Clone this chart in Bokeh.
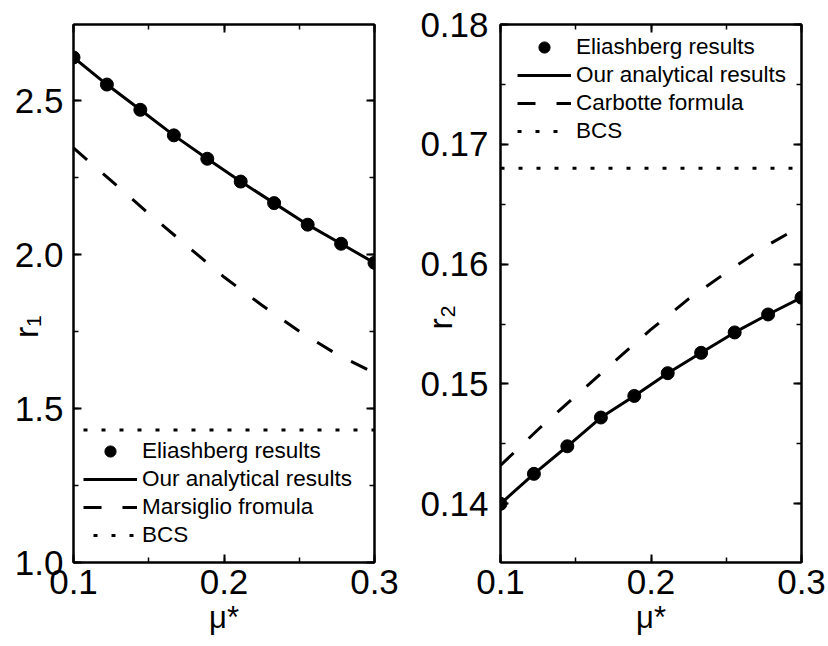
from bokeh.plotting import figure
from bokeh.models import (Range1d, LinearAxis, SingleIntervalTicker,
                          Legend, LegendItem, CustomJSTickFormatter, NumeralTickFormatter)
from bokeh.layouts import row
from bokeh.embed import file_html
from bokeh.resources import INLINE

# ---------------- data ----------------
mu_points = [0.1, 0.1222, 0.1444, 0.1667, 0.1889, 0.2111, 0.2333, 0.2556, 0.2778, 0.3]
mu_curve = [0.1, 0.125, 0.15, 0.175, 0.2, 0.225, 0.25, 0.275, 0.3]
mu_span = [0.1, 0.3]

r1_eliashberg = [2.640, 2.552, 2.470, 2.387, 2.311, 2.237, 2.167, 2.097, 2.035, 1.973]
r1_analytical = [2.640, 2.552, 2.470, 2.387, 2.311, 2.237, 2.167, 2.097, 2.035, 1.973]
r1_marsiglio = [2.346, 2.240, 2.133, 2.030, 1.927, 1.836, 1.751, 1.676, 1.615]
r1_bcs = [1.43, 1.43]

r2_eliashberg = [0.1400, 0.1425, 0.1448, 0.1472, 0.1490, 0.1509, 0.1526, 0.1543, 0.1558, 0.1572]
r2_analytical = [0.1400, 0.1425, 0.1448, 0.1472, 0.1490, 0.1509, 0.1526, 0.1543, 0.1558, 0.1572]
r2_carbotte = [0.1432, 0.1462, 0.1490, 0.1518, 0.15455, 0.1571, 0.1593, 0.1614, 0.1632]
r2_bcs = [0.168, 0.168]

legend_left = ["Eliashberg results", "Our analytical results", "Marsiglio fromula", "BCS"]
legend_right = ["Eliashberg results", "Our analytical results", "Carbotte formula", "BCS"]
x_title = "μ*"
y_title_left = "r₁"
y_title_right = "r₂"

FONT = "Liberation Sans"
NBSP = "\u00a0"


def style_axis(ax, interval, standoff, fmt=None):
    ax.ticker = SingleIntervalTicker(interval=interval, num_minor_ticks=2)
    ax.axis_line_width = 2
    ax.axis_line_color = "black"
    ax.major_tick_in = 8
    ax.major_tick_out = 0
    ax.minor_tick_in = 5
    ax.minor_tick_out = 0
    ax.major_tick_line_width = 2
    ax.minor_tick_line_width = 1.5
    ax.major_tick_line_color = "black"
    ax.minor_tick_line_color = "black"
    ax.major_label_text_font = FONT
    ax.major_label_text_color = "black"
    ax.major_label_standoff = standoff
    ax.axis_label_text_font = FONT
    ax.axis_label_text_font_style = "normal"
    ax.axis_label_text_color = "black"
    if fmt is not None:
        ax.major_label_text_font_size = "35px"
        ax.formatter = NumeralTickFormatter(format=fmt)
    else:
        ax.major_label_text_font_size = "0px"
        ax.formatter = CustomJSTickFormatter(code="return ''")
        ax.major_label_standoff = 0


def make_panel(y_lo, y_hi, y_interval, y_fmt, border_left, border_right, y_standoff,
               y_title, y_title_standoff, y_title_pad, marks, legend_labels,
               legend_loc, dash_offset):
    p = figure(width=414, height=646,
               x_range=Range1d(0.1 - 1e-9, 0.3 + 1e-9),
               y_range=Range1d(y_lo, y_hi),
               output_backend="svg", toolbar_location=None,
               min_border_left=border_left, min_border_right=border_right,
               min_border_top=24, min_border_bottom=84)
    p.xgrid.visible = False
    p.ygrid.visible = False
    p.outline_line_color = "black"
    p.outline_line_width = 2
    p.background_fill_color = "white"
    p.border_fill_color = "white"

    style_axis(p.xaxis[0], 0.1, 7, "0.0")
    p.xaxis[0].axis_label = x_title
    p.xaxis[0].axis_label_text_font_size = "31px"
    p.xaxis[0].axis_label_standoff = 3
    style_axis(p.yaxis[0], y_interval, y_standoff, y_fmt)
    p.yaxis[0].axis_label = y_title + NBSP * y_title_pad
    p.yaxis[0].axis_label_text_font_size = "34px"
    p.yaxis[0].axis_label_standoff = y_title_standoff
    top = LinearAxis()
    style_axis(top, 0.1, 0)
    p.add_layout(top, "above")
    right = LinearAxis()
    style_axis(right, y_interval, 0)
    p.add_layout(right, "right")

    pts, ana, formula, bcs = marks
    r_line = p.line(mu_points, ana, line_color="black", line_width=3)
    r_dash = p.line(mu_curve, formula, line_color="black", line_width=3, line_dash="18 21")
    r_dot = p.line(mu_span, bcs, line_color="black", line_width=3, line_dash="4 14",
                   line_dash_offset=dash_offset)
    r_pts = p.scatter(mu_points, pts, marker="circle", size=13,
                      fill_color="black", line_color="black")

    legend = Legend(items=[LegendItem(label=legend_labels[0], renderers=[r_pts]),
                           LegendItem(label=legend_labels[1], renderers=[r_line]),
                           LegendItem(label=legend_labels[2], renderers=[r_dash]),
                           LegendItem(label=legend_labels[3], renderers=[r_dot])],
                    location=legend_loc, padding=0, margin=0, spacing=0,
                    glyph_width=54, glyph_height=28, label_height=28,
                    label_standoff=5, label_text_font=FONT,
                    label_text_font_size="22.5px", label_text_color="black",
                    border_line_alpha=0, background_fill_alpha=0)
    p.add_layout(legend)
    return p


p1 = make_panel(1.0, 2.747, 0.5, "0.0", 73, 40, 10, y_title_left, -33, 7,
                (r1_eliashberg, r1_analytical, r1_marsiglio, r1_bcs),
                legend_left, (10, 13), 8)
p2 = make_panel(0.1351, 0.18, 0.01, "0.00", 86, 27, 12, y_title_right, -42, 5,
                (r2_eliashberg, r2_analytical, r2_carbotte, r2_bcs),
                legend_right, (17, 417), 0)

layout = row(p1, p2)
open("out.html", "w").write(file_html(layout, INLINE))
